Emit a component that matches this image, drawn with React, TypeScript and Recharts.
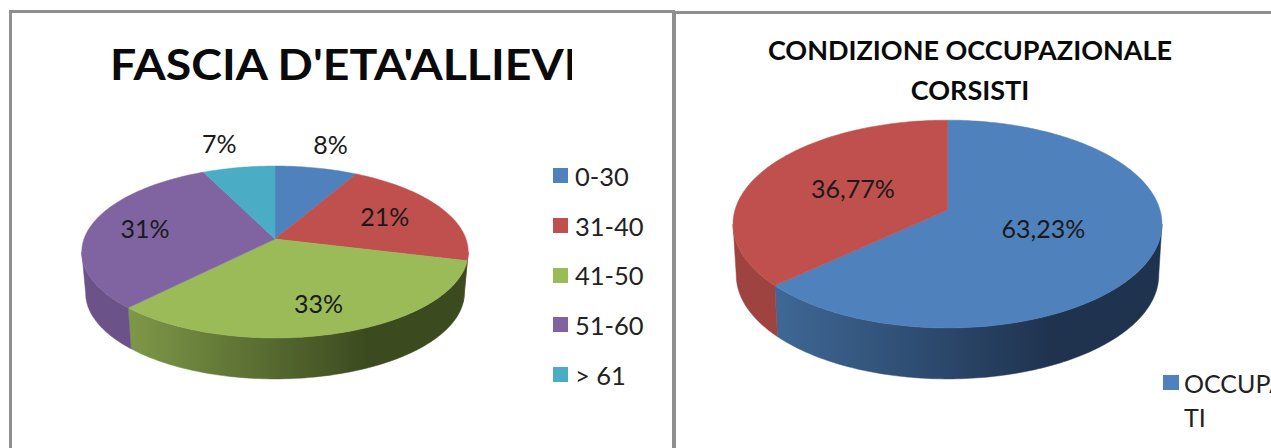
import { PieChart, Pie, Legend } from 'recharts';

const ageNames = ['0-30', '31-40', '41-50', '51-60', '> 61'];
const ageValues = [8, 21, 33, 31, 7];
const ageLabels = ['8%', '21%', '33%', '31%', '7%'];
const ageColors = ['#4F81BD', '#C0504D', '#9BBB59', '#8064A2', '#4BACC6'];
const ageWalls = ['#3a5f8c', '#8f3b39', 'url(#wallGreen)', '#6b5288', '#37859a'];
const ageLabelRadius = [1.38, 0.65, 0.73, 0.7, 1.38];
const ageLabelShift = [1, 0, 0, 0, -8];

const jobNames = ['OCCUPATI', 'NON OCCUPATI'];
const jobValues = [63.23, 36.77];
const jobLabels = ['63,23%', '36,77%'];
const jobColors = ['#4F81BD', '#C0504D'];
const jobWalls = ['url(#wallBlue)', '#9e4340'];
const jobLabelRadius = [0.48, 0.5];
const jobLabelShift = [0, 0];

const ageData = ageNames.map((name, i) => ({ name, value: ageValues[i], fill: ageColors[i], wall: ageWalls[i], label: ageLabels[i], labelRadius: ageLabelRadius[i], labelShift: ageLabelShift[i] }));
const jobData = jobNames.map((name, i) => ({ name, value: jobValues[i], fill: jobColors[i], wall: jobWalls[i], label: jobLabels[i], labelRadius: jobLabelRadius[i], labelShift: jobLabelShift[i] }));

const FONT = 'Lato, "Open Sans", sans-serif';
const FRAME = '#8f8f8f';

// tilted disc: the library's angle goes through a small perspective projection
type Tilt = { b: number; p: number; depth: number; shrink: number };

const project = (cx: number, cy: number, a: number, tilt: Tilt, theta: number, r = 1) => {
  const rad = (theta * Math.PI) / 180;
  const X = Math.sin(rad) * r;
  const Y = Math.cos(rad) * r;
  const w = 1 + tilt.p * Y;
  return { x: cx + (a * X) / w, y: cy - (tilt.b * Y) / w };
};

const arcPoints = (from: number, to: number, fn: (t: number) => { x: number; y: number }) => {
  const pts = [];
  const n = Math.max(2, Math.ceil(Math.abs(to - from)));
  for (let i = 0; i <= n; i++) pts.push(fn(from + ((to - from) * i) / n));
  return pts;
};

const toPath = (pts: { x: number; y: number }[]) =>
  pts.map((q, i) => `${i ? 'L' : 'M'}${q.x.toFixed(2)},${q.y.toFixed(2)}`).join(' ') + ' Z';

const discShape = (tilt: Tilt) => (props: any) => {
  const { cx, cy, outerRadius, startAngle, endAngle, fill, payload } = props;
  const t1 = 90 - startAngle;
  const t2 = 90 - endAngle;
  const rim = (t: number) => project(cx, cy, outerRadius, tilt, t);
  const base = (t: number) => {
    const q = rim(t);
    return { x: cx + (q.x - cx) * tilt.shrink, y: q.y + tilt.depth };
  };
  const edge = (Math.acos(-tilt.p) * 180) / Math.PI;
  const w1 = Math.max(t1, edge);
  const w2 = Math.min(t2, 360 - edge);
  const wall = (payload.wall ?? props.wall) as string;
  return (
    <g>
      {w2 > w1 && (
        <path
          d={toPath([...arcPoints(w1, w2, rim), ...arcPoints(w2, w1, base)])}
          fill={wall}
          stroke={wall}
          strokeWidth={0.5}
        />
      )}
      <path d={toPath([{ x: cx, y: cy }, ...arcPoints(t1, t2, rim)])} fill={fill} stroke={fill} strokeWidth={0.5} />
    </g>
  );
};

const discLabel = (tilt: Tilt, fontSize: number) => (props: any) => {
  const { cx, cy, outerRadius, midAngle, payload } = props;
  const entry = payload?.label ? payload : props;
  const q = project(cx, cy, outerRadius, tilt, 90 - midAngle, entry.labelRadius);
  return (
    <text x={q.x + entry.labelShift} y={q.y - 2} textAnchor="middle" dominantBaseline="central" fontFamily={FONT} fontSize={fontSize} fill="#1a1a1a">
      {entry.label}
    </text>
  );
};

const AgeLegend = ({ payload }: any) => (
  <div style={{ fontFamily: FONT, fontSize: 25.5, color: '#222' }}>
    {(payload ?? []).map((entry: any) => (
      <div key={entry.value} style={{ display: 'flex', alignItems: 'center', height: 49.7 }}>
        <span style={{ width: 15, height: 15, background: entry.color, marginRight: 7, flex: 'none' }} />
        <span>{entry.value}</span>
      </div>
    ))}
  </div>
);

const JobLegend = ({ payload }: any) => (
  <div style={{ fontFamily: FONT, fontSize: 25, lineHeight: '34px', color: '#222' }}>
    {(payload ?? []).map((entry: any) => (
      <div key={entry.value} style={{ display: 'flex', alignItems: 'flex-start', marginBottom: 24 }}>
        <span style={{ width: 16, height: 15, background: entry.color, marginRight: 5, marginTop: 9, flex: 'none' }} />
        <span style={{ width: 108, wordBreak: 'break-all' }}>{entry.value}</span>
      </div>
    ))}
  </div>
);

const ageTilt: Tilt = { b: 84, p: 0.151, depth: 41, shrink: 0.98 };
const jobTilt: Tilt = { b: 102, p: 0.135, depth: 51, shrink: 0.985 };

export default function App() {
  return (
    <div style={{ position: 'absolute', left: 0, top: 0, width: 1271, height: 448, overflow: 'hidden', background: '#fff' }}>
      {/* panel frames */}
      <div style={{ position: 'absolute', left: 9, top: 10, width: 663, height: 460, borderTop: `3px solid ${FRAME}`, borderLeft: `3px solid ${FRAME}` }} />
      <div style={{ position: 'absolute', left: 672, top: 11, width: 640, height: 460, borderTop: `3px solid ${FRAME}`, borderLeft: `4px solid ${FRAME}` }} />

      {/* left chart */}
      <div style={{ position: 'absolute', left: 12, top: 13 }}>
        <PieChart width={660} height={435} margin={{ top: 0, right: 0, bottom: 0, left: 0 }}>
          <defs>
            <linearGradient id="wallGreen" gradientUnits="userSpaceOnUse" x1={116} y1={0} x2={356} y2={0}>
              <stop offset="0%" stopColor="#7e9849" />
              <stop offset="100%" stopColor="#3c4a1f" />
            </linearGradient>
          </defs>
          <Pie
            data={ageData}
            dataKey="value"
            nameKey="name"
            cx={263}
            cy={226}
            outerRadius={191}
            startAngle={90}
            endAngle={-270}
            stroke="none"
            shape={discShape(ageTilt)}
            label={discLabel(ageTilt, 25)}
            labelLine={false}
            isAnimationActive={false}
          />
          <Legend content={AgeLegend} layout="vertical" itemSorter={null} wrapperStyle={{ left: 541, top: 138, width: 110, bottom: 'auto', right: 'auto' }} />
        </PieChart>
      </div>
      <div style={{ position: 'absolute', left: 110, top: 36, width: 462, height: 56, overflow: 'hidden' }}>
        <div style={{ whiteSpace: 'nowrap', fontFamily: FONT, fontWeight: 700, fontSize: 42, lineHeight: '56px', color: '#0a0a0a', transform: 'scaleX(1.105)', transformOrigin: 'left center' }}>
          FASCIA D'ETA'ALLIEVI
        </div>
      </div>

      {/* right chart */}
      <div style={{ position: 'absolute', left: 675, top: 0 }}>
        <PieChart width={640} height={520} margin={{ top: 0, right: 0, bottom: 0, left: 0 }}>
          <defs>
            <linearGradient id="wallBlue" gradientUnits="userSpaceOnUse" x1={100} y1={0} x2={375} y2={0}>
              <stop offset="0%" stopColor="#3f6896" />
              <stop offset="100%" stopColor="#1f334f" />
            </linearGradient>
          </defs>
          <Pie
            data={jobData}
            dataKey="value"
            nameKey="name"
            cx={272.5}
            cy={210}
            outerRadius={212.5}
            startAngle={90}
            endAngle={-270}
            stroke="none"
            shape={discShape(jobTilt)}
            label={discLabel(jobTilt, 25)}
            labelLine={false}
            isAnimationActive={false}
          />
          <Legend content={JobLegend} layout="vertical" itemSorter={null} wrapperStyle={{ left: 488, top: 366, width: 140, bottom: 'auto', right: 'auto' }} />
        </PieChart>
      </div>
      <div style={{ position: 'absolute', left: 700, top: 30, width: 540, textAlign: 'center', fontFamily: FONT, fontWeight: 700, fontSize: 27, lineHeight: '40px', color: '#0a0a0a' }}>
        CONDIZIONE OCCUPAZIONALE
        <br />
        CORSISTI
      </div>
    </div>
  );
}
